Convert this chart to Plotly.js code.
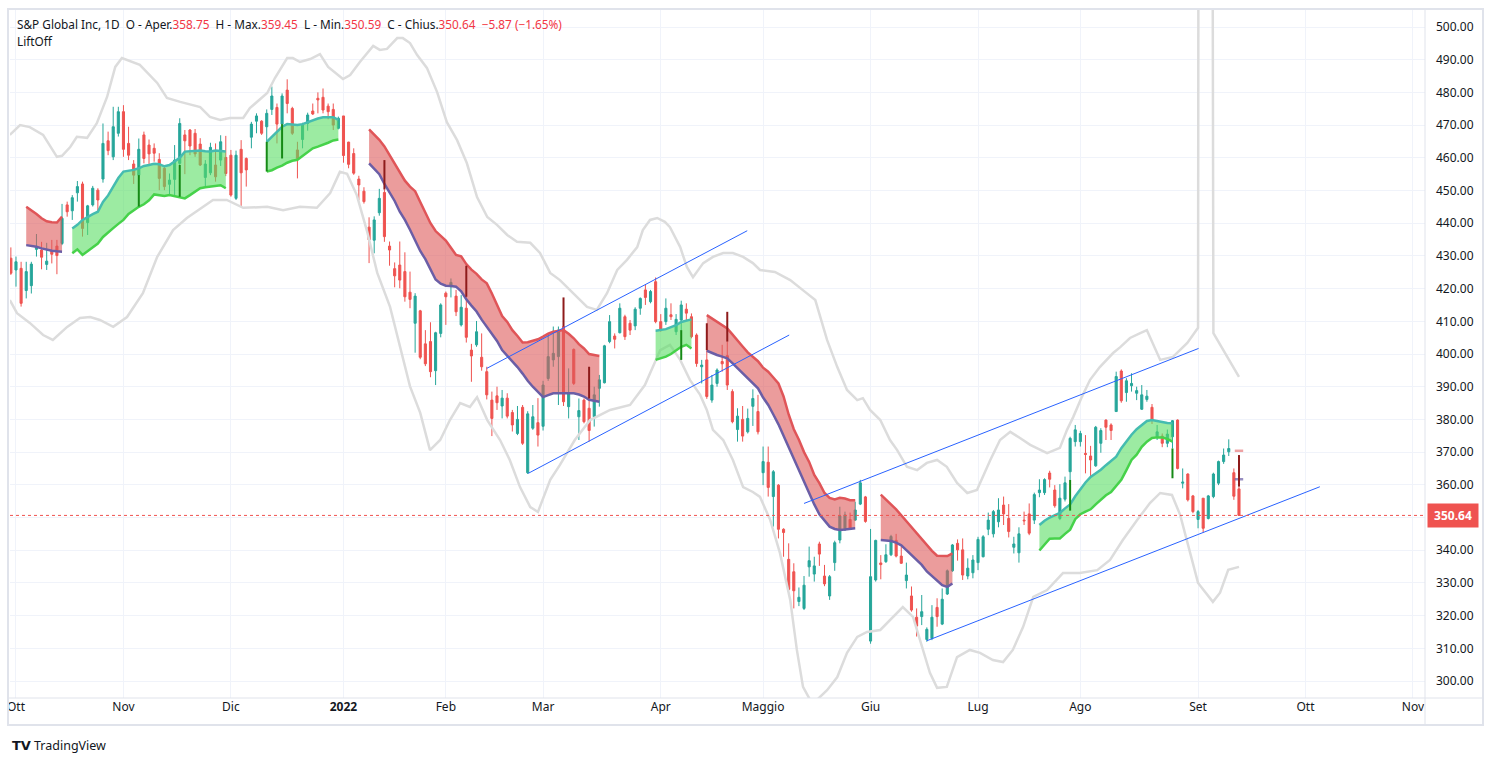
<!DOCTYPE html>
<html><head><meta charset="utf-8">
<script src="https://cdn.plot.ly/plotly-3.0.1.min.js"></script>
<style>html,body{margin:0;padding:0;background:#fff;}#chart{width:1493px;height:762px;}</style>
</head><body><div id="chart"></div>
<script>
// ---------- DATA ----------
const firstBar = -1; // Sep 30 2021, bar index 0 = Oct 1 2021 (trading-day index)
const open = [
429.3,425.7,426.2,419.4,420.9,432.0,431.8,427.4,431.6,433.0,433.8,
445.6,443.8,449.3,452.0,440.2,445.6,450.1,453.5,465.2,460.3,
467.5,474.1,464.4,458.1,454.7,467.0,463.9,462.9,459.5,456.8,
451.9,453.4,458.3,467.0,468.5,467.5,464.2,454.0,455.4,457.8,
459.3,460.1,460.8,447.6,462.6,459.8,466.3,471.2,471.2,469.5,
474.8,475.4,470.3,480.7,475.1,462.4,465.6,470.5,474.3,478.2,
478.5,475.8,474.8,469.0,472.8,464.8,461.3,453.5,449.8,438.8,
434.8,443.2,449.4,433.0,426.1,427.2,425.2,418.9,409.4,413.2,
403.1,403.8,394.9,406.3,418.6,420.6,417.7,408.9,414.0,401.2,
402.8,399.0,394.6,385.9,387.2,384.1,386.5,382.1,375.7,383.7,
363.7,377.3,379.0,377.9,392.5,398.2,399.2,408.4,383.9,401.4,
380.8,385.9,383.4,380.8,389.5,391.2,403.8,405.5,406.5,411.4,
409.4,408.6,414.0,419.6,416.0,422.1,409.9,409.9,412.0,406.8,
410.4,413.7,411.4,405.8,396.1,398.2,385.9,391.0,397.7,399.5,
388.5,376.9,380.0,376.2,384.0,382.4,363.7,366.9,356.4,359.9,
346.4,337.2,333.4,324.3,322.2,334.9,332.7,341.9,332.1,326.0,
336.2,343.1,346.2,349.4,349.2,354.1,356.3,312.2,330.9,336.1,
336.5,338.6,343.0,338.2,330.7,326.0,319.5,319.7,312.7,313.0,
322.5,317.4,326.6,333.7,342.1,340.1,332.1,333.1,336.2,338.0,
346.4,345.0,348.7,353.8,349.7,340.9,339.2,349.2,351.1,349.2,
357.6,357.6,363.6,358.4,349.7,355.6,364.0,373.2,373.2,369.6,
368.8,365.8,372.7,379.8,378.3,382.4,394.8,388.2,390.3,388.0,
383.1,386.1,383.7,374.5,374.9,372.7,374.7,379.8,360.5,363.3,
356.6,349.4,355.9,349.7,356.4,360.5,367.1,370.1,363.7,358.75];
const high = [
432.6,429.8,428.2,428.2,428.2,436.7,434.3,434.0,434.9,434.9,445.9,
446.6,448.6,452.9,452.7,445.6,451.4,450.7,470.5,468.0,475.6,
475.6,476.1,469.5,459.3,465.9,468.0,465.6,464.4,461.4,457.5,
455.2,463.9,472.1,468.5,468.8,468.8,466.0,459.3,464.6,464.4,
466.9,466.7,462.4,462.2,465.4,460.1,471.0,473.6,471.5,474.8,
481.8,476.6,479.7,484.0,475.6,464.9,470.7,473.8,476.6,480.0,
481.2,476.6,476.6,472.6,472.8,464.9,462.9,454.5,451.0,441.8,
442.1,450.5,450.3,434.4,428.0,434.4,431.1,425.2,418.6,413.5,
407.3,409.7,406.8,415.5,419.1,423.1,419.6,418.0,417.5,403.1,
410.1,406.3,396.1,388.5,390.0,389.0,388.0,382.9,384.1,384.4,
382.5,384.4,386.5,391.8,406.3,408.4,408.4,408.4,395.6,401.7,
386.4,386.4,386.4,390.0,393.6,402.8,411.9,406.3,415.5,412.0,
410.4,414.3,417.3,421.1,419.6,423.4,412.2,417.0,415.5,412.2,
416.3,415.5,412.4,406.3,398.2,401.2,393.6,395.6,402.8,403.8,
389.2,383.4,384.1,383.3,389.2,387.5,371.7,371.7,364.5,360.2,
346.7,342.1,336.0,328.6,332.1,341.1,338.0,342.6,335.5,332.4,
342.9,353.3,351.8,351.5,354.8,361.5,356.6,346.5,343.2,338.5,
341.8,344.7,345.0,341.1,336.2,328.9,322.2,326.3,316.4,323.2,
325.3,328.3,334.1,341.9,343.3,343.6,337.5,338.5,344.1,344.6,
351.5,352.3,355.9,356.4,354.1,344.1,347.0,351.8,354.3,357.6,
361.7,362.0,364.3,359.9,360.2,362.5,374.7,378.3,376.5,375.2,
371.9,378.0,377.3,380.0,378.8,394.6,395.3,392.6,394.1,390.0,
390.5,389.0,384.7,378.3,375.7,376.9,379.8,380.0,365.0,363.5,
356.9,352.3,355.9,356.9,363.7,367.4,371.1,373.9,365.0,359.45];
const low = [
424.2,420.6,414.5,417.0,418.5,429.8,425.9,425.7,427.7,424.4,433.3,
442.0,441.0,446.6,435.9,436.4,445.1,443.5,452.4,460.8,459.3,
466.5,460.3,459.3,452.0,454.0,458.3,458.1,458.8,450.1,450.1,
448.6,448.6,457.8,455.0,460.8,460.3,457.5,451.2,454.7,452.7,
457.5,454.4,448.1,447.1,445.1,451.2,462.9,467.5,467.0,464.9,
473.1,464.4,470.3,473.6,467.0,453.7,462.9,468.3,473.1,473.6,
473.6,471.8,468.5,468.7,458.5,456.8,454.8,447.0,446.0,427.8,
430.8,442.3,434.3,427.0,420.4,420.1,416.0,414.0,400.4,398.4,
396.3,392.9,390.5,405.1,408.9,417.3,411.6,408.4,403.5,391.5,
402.2,394.9,386.1,374.9,382.9,380.3,380.3,376.3,375.2,372.2,
363.3,376.8,371.7,376.6,391.8,396.1,384.4,384.1,380.3,390.5,
373.7,378.8,373.2,377.8,383.9,391.0,403.3,401.7,406.3,404.3,
405.8,407.3,412.0,415.0,415.5,409.4,406.8,408.9,410.4,405.8,
407.3,410.4,404.8,396.1,391.0,386.3,385.1,390.0,394.6,389.0,
378.8,373.2,373.2,375.7,378.0,375.4,359.9,356.4,347.2,343.6,
338.0,327.6,322.2,322.9,321.7,331.9,330.4,335.2,329.0,324.8,
333.7,342.1,346.0,346.2,349.0,353.8,348.4,311.4,330.4,331.1,
336.1,338.2,337.8,335.8,328.3,321.2,313.6,317.1,312.0,312.5,
316.6,317.1,326.3,333.4,336.8,330.9,331.1,331.4,333.9,337.8,
344.6,343.9,347.0,347.7,343.9,339.0,336.2,347.7,344.6,348.0,
356.2,356.9,359.2,353.0,349.2,354.9,361.5,371.7,371.7,363.5,
362.7,365.5,369.8,373.7,373.7,382.4,385.1,385.4,388.5,385.9,
382.9,385.4,378.6,373.7,371.5,371.5,371.1,364.7,358.9,354.9,
351.3,346.7,345.4,349.4,355.9,359.9,366.4,368.8,355.4,350.59];
const close = [
424.7,428.2,415.5,425.2,427.5,432.8,429.6,428.4,430.5,430.1,441.5,
443.5,447.8,451.2,438.4,445.3,450.7,447.1,464.4,462.2,469.5,
474.1,462.6,460.8,454.7,462.6,459.8,461.2,461.4,453.7,451.2,
453.2,459.3,470.5,465.2,463.6,461.2,457.8,458.1,463.2,454.2,
464.9,455.2,448.6,460.8,455.4,456.3,470.3,472.8,467.5,473.6,
478.9,470.3,478.9,476.6,467.5,459.8,470.3,473.1,473.4,477.7,
474.6,474.1,470.0,472.1,460.7,458.0,455.3,451.7,446.6,434.9,
441.0,447.6,435.9,431.8,423.9,422.6,417.5,416.7,417.7,399.0,
397.0,394.6,406.5,415.0,417.5,421.9,412.9,414.3,405.1,399.4,
406.8,396.1,387.5,380.3,385.1,386.5,381.0,378.3,380.0,372.7,
381.7,380.8,375.2,390.5,399.2,400.2,407.3,385.4,388.0,391.0,
382.7,379.3,376.6,387.5,392.1,402.5,409.9,404.5,414.0,405.3,
407.3,413.7,417.0,417.3,419.1,409.9,407.3,414.0,411.4,410.6,
415.0,412.5,405.3,397.1,396.6,387.0,390.5,395.1,397.0,390.5,
379.3,381.0,374.9,380.3,386.4,376.2,367.1,359.2,364.0,346.4,
345.4,328.0,327.6,325.6,329.3,336.8,335.2,338.8,329.7,331.9,
342.3,350.5,350.8,346.7,352.3,360.6,348.8,331.9,343.0,335.6,
338.6,344.2,338.2,336.0,332.4,321.7,316.8,321.2,315.8,319.5,
319.7,325.0,333.7,341.6,340.1,332.4,334.5,337.0,343.3,344.1,
349.2,351.8,352.3,351.1,345.7,341.9,345.0,349.0,345.2,357.0,
358.4,361.6,361.7,353.6,355.9,360.6,374.2,376.8,375.7,369.3,
367.6,377.6,376.6,377.6,376.6,393.1,385.7,391.8,391.0,388.8,
387.5,387.1,379.8,376.2,372.7,375.5,379.6,365.0,360.8,355.4,
351.8,351.8,346.7,356.6,363.3,367.1,369.1,371.1,356.51,350.64];

// month tick positions (trading-day index) and labels
const monthTickIdx = [0,21,42,64,84,103,126,146,167,188,208,231,252,273];
const monthLabels  = ['Ott','Nov','Dic','<b>2022</b>','Feb','Mar','Apr','Maggio','Giu','Lug','Ago','Set','Ott','Nov'];

// LiftOff ribbons (start index, upper line, lower line)
const ribStart = [2, 11, 49, 69, 125, 135, 169, 200, 239];
const ribUp    = [false, true, true, false, true, false, false, true, false];
const ribTopA = [445.0,444.0,442.8,441.5,440.6,440.3,440.2,442.0];
const ribBotA = [433.3,433.1,432.8,432.3,431.9,431.6,431.4,431.3];
const ribTopB = [438.4,439.5,441.0,442.0,442.8,443.5,446.5,448.5,451.2,453.8,455.8,456.0,456.3,456.8,457.5,457.8,458.2,458.0,457.4,457.8,459.0,460.0,461.9,462.0,462.1,462.2,462.0,461.9,462.2,462.0,461.9];
const ribBotB = [430.8,432.0,430.3,431.5,432.8,433.8,435.8,437.3,438.5,439.8,441.0,442.8,444.0,445.0,445.8,447.0,448.8,448.6,448.3,448.6,448.3,448.0,447.6,448.6,449.6,450.7,451.0,451.2,451.4,451.6,450.7];
const ribTopC = [464.9,466.5,468.0,469.5,470.3,470.2,470.0,470.3,470.9,471.6,472.0,472.4,472.4,472.4,471.6];
const ribBotC = [455.8,456.2,457.0,457.6,458.5,459.1,459.4,460.5,461.6,462.9,463.4,463.9,464.6,465.3,465.6];
const ribTopD = [468.7,467.2,465.5,463.5,460.8,458.0,455.5,453.0,451.2,449.8,446.5,443.0,440.0,437.6,436.0,434.7,432.5,430.3,429.9,427.5,425.8,424.5,422.8,421.6,418.5,415.0,411.6,409.8,407.3,405.5,403.5,403.6,404.0,404.5,405.3,406.2,406.8,407.0,407.3,406.2,404.8,403.0,401.7,400.0,399.6,399.4];
const ribBotD = [458.3,456.5,455.0,452.0,449.5,446.8,443.5,441.0,438.0,434.5,431.5,429.0,426.0,422.8,421.5,420.9,420.8,420.6,419.2,416.7,414.8,413.0,410.5,408.4,406.0,404.0,401.2,399.5,397.8,396.0,394.0,391.8,390.0,388.5,386.8,387.4,388.0,388.0,388.0,388.0,388.0,387.6,387.0,386.0,385.6,385.4];
const ribTopE = [407.1,407.3,407.6,408.2,408.8,409.8,410.3,410.6];
const ribBotE = [398.2,398.6,399.2,400.0,401.0,402.2,402.8,401.7];
const ribTopF = [411.9,410.9,409.9,408.8,407.8,406.0,404.3,402.3,400.5,399.2,397.8,395.8,394.6,392.8,391.0,387.0,381.5,377.0,373.8,370.0,367.0,363.0,360.5,357.5,356.0,355.5,356.0,355.8,355.3,355.3];
const ribBotF = [401.0,400.3,399.7,399.2,398.7,397.2,395.6,394.0,392.6,391.0,389.5,386.7,384.4,381.5,378.5,375.0,371.5,368.0,364.5,361.0,357.2,354.0,351.0,349.1,347.2,346.5,346.2,346.3,346.4,346.7];
const ribTopG = [357.0,355.6,354.2,352.5,350.7,348.9,347.0,345.3,343.6,341.5,339.8,338.3,338.2,338.2,339.0];
const ribBotG = [343.1,343.0,342.8,342.3,341.5,340.0,338.5,337.0,335.5,333.5,332.0,330.6,329.3,328.8,329.8];
const ribTopH = [347.7,349.0,350.0,350.8,351.4,352.8,354.0,356.5,358.7,360.7,362.4,363.5,364.6,366.0,367.2,368.6,371.2,373.4,375.3,377.0,378.3,379.5,379.8,379.6,379.2,378.9,378.8];
const ribBotH = [339.9,341.7,343.5,343.6,343.6,345.0,346.3,349.5,351.0,351.8,352.5,354.0,355.5,356.8,357.8,359.5,361.5,364.5,367.6,369.2,371.6,373.2,374.3,374.5,374.5,374.0,373.2];
const ribTopI = [370.4];
const ribBotI = [361.7];
const ribTops = [ribTopA, ribTopB, ribTopC, ribTopD, ribTopE, ribTopF, ribTopG, ribTopH, ribTopI];
const ribBots = [ribBotA, ribBotB, ribBotC, ribBotD, ribBotE, ribBotF, ribBotG, ribBotH, ribBotI];

// LiftOff signal bars
const sigRedIdx  = [72, 88, 107, 112, 135, 139, 239];
const sigRedFrom = [450.3, 417.5, 408.4, 386.4, 401.2, 403.8, 359.45];
const sigRedTo   = [459.3, 427.0, 417.3, 396.1, 409.4, 412.9, 369.1];
const sigGreenIdx  = [24, 32, 49, 52, 130, 206, 226];
const sigGreenFrom = [454.7, 457.8, 464.9, 470.3, 407.3, 361.5, 371.1];
const sigGreenTo   = [445.1, 448.1, 455.8, 459.8, 398.2, 352.1, 362.0];

// outer envelope bands
const upperX = [-1.2,0.8,2.7,5.3,8.0,9.0,10.6,11.9,13.9,15.8,17.8,19.4,20.7,21.7,24.2,27.6,29.5,32.1,36.0,37.9,39.9,41.8,44.4,45.7,47.1,49.1,50.6,53.0,54.1,55.5,57.5,59.4,61.0,62.3,63.9,65.3,67.2,69.8,71.1,72.5,74.5,75.6,77.0,78.4,80.3,82.3,84.2,86.2,88.1,90.1,92.1,94.0,96.0,97.9,100.5,102.4,104.4,106.3,108.9,111.6,113.5,115.5,117.5,119.4,121.4,122.5,123.9,125.3,126.8,127.8,129.8,131.1,132.3,134.3,136.2,138.2,140.1,142.1,144.0,145.4,148.3,151.3,154.2,156.2,158.5,160.5,162.4,164.4,165.5,166.9,168.9,170.8,172.2,174.1,176.1,178.0,180.0,181.9,183.9,185.9,187.8,190.4,192.3,194.3,196.2,198.2,201.5,204.0,205.4,206.6,208.3,209.9,211.8,214.4,215.8,217.7,219.7,221.0,223.6,226.1,228.9,231,232,233,234,239];
const upperY = [467.0,470.0,469.4,467.0,460.3,460.6,463.3,466.4,466.1,470.6,478.6,487.8,490.5,489.9,488.4,482.9,478.3,477.1,475.5,472.5,471.6,472.2,472.2,475.2,477.1,479.8,484.4,490.5,490.5,489.3,490.2,491.7,487.8,486.2,484.1,485.3,489.3,494.2,493.0,493.3,496.6,496.6,495.1,491.4,487.5,480.1,470.9,465.4,458.4,448.0,441.9,439.5,436.4,434.3,434.0,430.9,424.8,422.6,418.6,414.4,413.5,418.6,425.7,428.8,432.7,437.9,441.0,441.6,440.4,438.8,432.7,426.6,423.5,427.8,429.7,430.9,430.9,429.7,427.8,425.7,425.1,422.6,419.0,416.5,404.3,396.0,389.0,385.9,386.5,382.9,379.8,373.7,370.6,365.5,364.5,366.7,367.6,365.5,360.6,357.5,358.4,367.6,373.7,376.2,374.3,372.2,369.7,371.3,376.8,380.7,386.9,392.1,396.0,400.3,402.1,404.9,406.4,407.3,398.2,399.1,403.4,408.0,2000,2000,406.4,393.0];
const lowerX = [-1.2,0.2,2.7,5.3,7.2,10.0,12.5,14.5,16.4,19.0,21.7,24.8,27.6,30.7,33.4,36.5,38.5,41.2,44.4,49.1,52.2,55.5,58.8,61.4,63.3,64.7,66.6,68.6,70.6,73.1,75.0,77.0,79.0,80.9,82.9,84.8,86.8,88.7,90.1,92.1,94.6,96.5,98.5,100.5,102.0,103.4,104.4,106.3,109.2,112.2,116.1,120.0,122.9,125.9,127.8,129.8,131.7,133.7,135.0,136.2,138.2,140.1,142.1,144.0,145.4,147.4,149.3,151.3,152.6,153.8,155.2,156.5,158.5,160.5,162.4,164.4,166.3,168.9,171.4,173.3,175.3,177.1,178.6,180.0,181.9,183.9,186.4,188.4,190.9,192.9,194.8,196.8,198.8,201.5,204.6,207.9,211.3,213.8,216.3,219.1,221.6,223.6,225.9,227.5,229.4,231.0,233.9,235.3,236.9,239.0];
const lowerY = [416.5,412.5,409.5,405.8,404.3,408.3,411.0,411.3,410.4,408.3,411.3,418.6,429.7,437.9,441.6,445.0,447.1,447.1,444.7,445.0,444.0,445.0,444.7,449.2,455.7,455.1,448.6,437.6,424.8,414.4,402.1,390.1,382.0,370.6,373.7,379.8,385.0,383.8,386.8,379.8,373.7,367.6,359.3,353.2,351.7,357.5,361.5,366.1,373.7,379.8,382.9,384.4,390.5,401.2,402.8,398.2,392.1,387.5,382.9,376.8,373.7,367.6,359.3,357.8,356.3,349.2,339.1,324.8,309.5,298.2,294.2,294.2,297.2,301.2,308.6,313.5,315.0,315.6,319.6,322.6,319.6,310.4,302.5,297.9,298.2,307.3,309.5,308.6,306.4,305.8,309.5,316.5,325.7,327.8,333.0,333.0,333.9,337.0,343.1,349.2,354.4,357.5,356.9,350.8,339.1,330.0,324.2,327.0,334.0,334.9];

// hand-drawn trend lines (bar index, price)
const trendX0 = [92.0, 100.1, 154.0, 178.0];
const trendY0 = [395.6, 363.5, 354.3, 312.3];
const trendX1 = [142.9, 151.1, 231.1, 254.8];
const trendY1 = [437.7, 405.8, 401.7, 359.4];

// header values
const symbolName = 'S&amp;P Global Inc, 1D';
const lastO = 358.75, lastH = 359.45, lastL = 350.59, lastC = 350.64, chg = -5.87, chgPct = -1.65;

// ---------- BUILD ----------
const xIdx = open.map((_, k) => firstBar + k);
const traces = [];
const nb = '\u00A0';

// envelope bands
traces.push({type:'scatter', mode:'lines', x:upperX, y:upperY, line:{color:'#DCDCDC', width:2.5}, hoverinfo:'skip'});
traces.push({type:'scatter', mode:'lines', x:lowerX, y:lowerY, line:{color:'#DCDCDC', width:2.5}, hoverinfo:'skip'});

// ribbons
ribStart.forEach((s, r) => {
  const top = ribTops[r], bot = ribBots[r];
  const xs = top.map((_, k) => s + k);
  const up = ribUp[r];
  const single = top.length === 1;
  traces.push({type:'scatter', mode: single ? 'markers' : 'lines', x:xs, y:bot,
    line:{color: up ? '#46D24A' : '#6B5EA6', width:2.5},
    marker:{symbol:'line-ew', size:6, line:{width:2.5, color: up ? '#46D24A' : 'rgba(107,94,166,0.7)'}},
    hoverinfo:'skip'});
  traces.push({type:'scatter', mode: single ? 'markers' : 'lines', x:xs, y:top,
    fill: single ? 'none' : 'tonexty',
    fillcolor: up ? 'rgba(90,222,100,0.6)' : 'rgba(222,90,90,0.6)',
    line:{color: up ? '#45BCB0' : '#E05558', width:2.5},
    marker:{symbol:'line-ew', size:6, line:{width:2.5, color: up ? '#45BCB0' : 'rgba(224,85,88,0.55)'}},
    hoverinfo:'skip'});
});

// signal bars
function segs(idx, a, b) {
  const xs = [], ys = [];
  idx.forEach((v, k) => { xs.push(v, v, null); ys.push(a[k], b[k], null); });
  return {xs, ys};
}
const sr = segs(sigRedIdx, sigRedFrom, sigRedTo);
const sg = segs(sigGreenIdx, sigGreenFrom, sigGreenTo);
traces.push({type:'scatter', mode:'lines', x:sr.xs, y:sr.ys, line:{color:'#8E1B1B', width:2}, hoverinfo:'skip'});
traces.push({type:'scatter', mode:'lines', x:sg.xs, y:sg.ys, line:{color:'#168A16', width:2}, hoverinfo:'skip'});

// candles
traces.push({type:'candlestick', x:xIdx, open, high, low, close,
  increasing:{line:{color:'#26A69A', width:1}, fillcolor:'#26A69A'},
  decreasing:{line:{color:'#EF5350', width:1}, fillcolor:'#EF5350'},
  whiskerwidth:0, hoverinfo:'skip'});

// shapes
const W = 1493, H = 762, mL = 10, mR = 68, mT = 10, mB = 64;
const pw = W - mL - mR, ph = H - mT - mB;
const px = v => (v - mL) / pw;        // page px -> paper x
const py = v => (H - mB - v) / ph;    // page px -> paper y
const border = '#E0E3EB';
const shapes = [];
trendX0.forEach((_, k) => shapes.push({type:'line', xref:'x', yref:'y', x0:trendX0[k], y0:trendY0[k], x1:trendX1[k], y1:trendY1[k], line:{color:'#2962FF', width:1}, layer:'above'}));
shapes.push({type:'line', xref:'paper', yref:'y', x0:0, x1:1, y0:lastC, y1:lastC, line:{color:'#EF5350', width:1, dash:'dot'}});
shapes.push({type:'rect', xref:'paper', yref:'paper', x0:px(8), x1:px(1483), y0:py(725), y1:py(9), line:{color:border, width:2}, layer:'above'});
shapes.push({type:'line', xref:'paper', yref:'paper', x0:1, x1:1, y0:py(725), y1:py(9), line:{color:border, width:1}, layer:'above'});
shapes.push({type:'line', xref:'paper', yref:'paper', x0:px(8), x1:px(1483), y0:0, y1:0, line:{color:border, width:1}, layer:'above'});

const red = '#F23645';
const fmt = v => v.toFixed(2);
const neg = v => (v < 0 ? '\u2212' : '+') + Math.abs(v).toFixed(2);
const headerText = symbolName + nb + nb + 'O - Aper.<span style="color:' + red + '">' + fmt(lastO) + '</span>' + nb + nb +
  'H - Max.<span style="color:' + red + '">' + fmt(lastH) + '</span>' + nb + nb +
  'L - Min.<span style="color:' + red + '">' + fmt(lastL) + '</span>' + nb + nb +
  'C - Chius.<span style="color:' + red + '">' + fmt(lastC) + '</span>' + nb + nb +
  '<span style="color:' + red + '">' + neg(chg) + ' (' + neg(chgPct) + '%)</span>';

const annotations = [
  {xref:'paper', yref:'paper', x:px(15), y:py(24), xanchor:'left', yanchor:'middle', text:headerText, showarrow:false, font:{size:11.8, color:'#131722'}},
  {xref:'paper', yref:'paper', x:px(15), y:py(41), xanchor:'left', yanchor:'middle', text:'LiftOff', showarrow:false, font:{size:11.8, color:'#131722'}},
  {xref:'paper', yref:'y', x:1, y:lastC, xanchor:'left', yanchor:'middle', xshift:2, text:'<b>' + fmt(lastC) + '</b>', showarrow:false,
    bgcolor:'#EF5350', font:{size:12, color:'#ffffff'}, borderpad:3, width:44},
  {xref:'paper', yref:'paper', x:px(10), y:py(745), xanchor:'left', yanchor:'middle', text:'<b>TV</b>', showarrow:false, font:{family:'DejaVu Sans', size:13, color:'#131722'}},
  {xref:'paper', yref:'paper', x:px(32), y:py(745), xanchor:'left', yanchor:'middle', text:'TradingView', showarrow:false, font:{size:12.5, color:'#131722'}}
];

const layout = {
  width:W, height:H, margin:{l:mL, r:mR, t:mT, b:mB},
  paper_bgcolor:'#ffffff', plot_bgcolor:'#ffffff',
  showlegend:false, hovermode:false, boxgap:0.42,
  font:{family:'Noto Sans, sans-serif', size:12, color:'#131722'},
  xaxis:{range:[-1.17, 275.35], tickmode:'array', tickvals:monthTickIdx, ticktext:monthLabels,
    showgrid:true, gridcolor:'#F0F3FA', gridwidth:1, zeroline:false, showline:false, ticks:'',
    rangeslider:{visible:false}, fixedrange:true, tickfont:{size:12, color:'#131722'}},
  yaxis:{side:'right', range:[294.8, 505.2], tick0:300, dtick:10, tickformat:'.2f',
    showgrid:true, gridcolor:'#F0F3FA', gridwidth:1, zeroline:false, showline:false, ticks:'',
    ticklabelstandoff:10, fixedrange:true, tickfont:{size:12, color:'#131722'}},
  shapes, annotations
};

Plotly.newPlot('chart', traces, layout, {displayModeBar:false, staticPlot:true});
</script>
</body></html>
